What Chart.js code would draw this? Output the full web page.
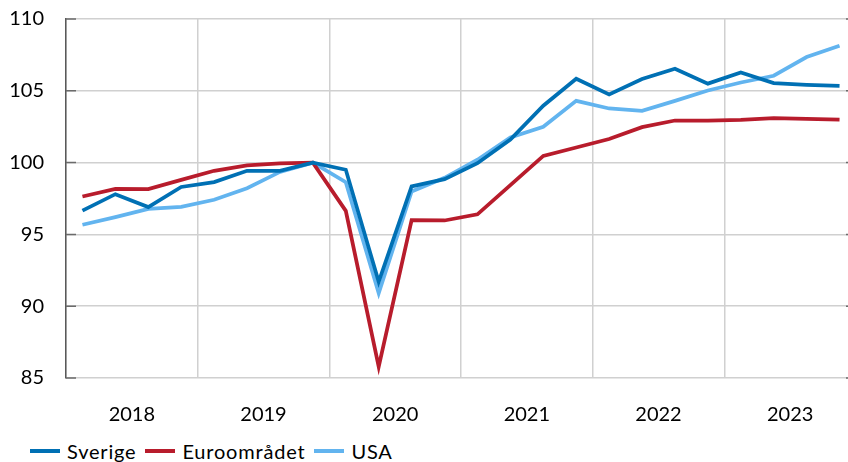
<!DOCTYPE html>
<html lang="sv">
<head>
<meta charset="utf-8">
<title>BNP Sverige, euroområdet och USA</title>
<script src="https://cdn.jsdelivr.net/npm/chart.js@4/dist/chart.umd.min.js"></script>
<style>
  html, body { margin: 0; padding: 0; background: #fff; overflow: hidden; }
  #wrap { position: relative; width: 848px; height: 462px; overflow: hidden; }
  #chart { position: absolute; left: 0; top: 0; }
  .legend { position: absolute; left: 30px; top: 439px; display: flex; align-items: center;
            font: 20px Lato, sans-serif; line-height: 24px; color: #000; white-space: nowrap;
            letter-spacing: 0.8px; }
  .legend .item { display: flex; align-items: center; margin-right: 9px; }
  .legend .swatch { width: 30px; height: 4px; margin-right: 7px; }
</style>
</head>
<body>
<div id="wrap">
  <canvas id="chart" width="860" height="427"></canvas>
  <div class="legend" id="legend"></div>
</div>
<script>
// quarterly data, 2018 K1 - 2023 K4, index 2019 K4 = 100
const years = ['2018', '2019', '2020', '2021', '2022', '2023'];
const quarters = years.flatMap(y => ['K1', 'K2', 'K3', 'K4'].map(q => y + ' ' + q));

const sverige = [96.66, 97.8, 96.9, 98.3, 98.64, 99.43, 99.43, 100.0,
                 99.5, 91.7, 98.35, 98.85, 99.96, 101.6, 103.96, 105.84,
                 104.75, 105.82, 106.54, 105.5, 106.28, 105.54, 105.42, 105.35];
const euro = [97.64, 98.17, 98.15, 98.8, 99.43, 99.8, 99.94, 100.0,
              96.64, 85.79, 96.0, 95.97, 96.4, 98.43, 100.47, 101.05,
              101.64, 102.47, 102.93, 102.93, 102.98, 103.1, 103.05, 103.0];
const usa = [95.67, 96.2, 96.78, 96.92, 97.41, 98.22, 99.35, 100.0,
             98.64, 90.9, 97.99, 98.94, 100.2, 101.75, 102.5, 104.3,
             103.77, 103.6, 104.3, 105.02, 105.58, 106.05, 107.35, 108.14];

const series = [
    { label: 'Sverige', values: sverige, color: '#0070b4' },
    { label: 'Euroområdet', values: euro, color: '#b81c2c' },
    { label: 'USA', values: usa, color: '#62b4ef' }
];

// points sit in the middle of each quarter
const toPoints = vals => vals.map((v, i) => ({ x: i + 0.5, y: v }));

// small inward ticks on the value axis (left and right edge)
const innerTicks = {
    id: 'innerTicks',
    beforeDatasetsDraw(chart) {
        const { ctx, chartArea, scales } = chart;
        ctx.save();
        ctx.strokeStyle = '#6b6b6b';
        ctx.lineWidth = 1.5;
        scales.y.ticks.forEach(t => {
            const y = scales.y.getPixelForValue(t.value);
            ctx.beginPath();
            ctx.moveTo(chartArea.left, y);
            ctx.lineTo(chartArea.left + 10, y);
            ctx.moveTo(chartArea.right - 10, y);
            ctx.lineTo(chartArea.right, y);
            ctx.stroke();
        });
        ctx.restore();
    }
};

new Chart(document.getElementById('chart'), {
    type: 'line',
    data: {
        datasets: series.map(s => ({
            label: s.label,
            data: toPoints(s.values),
            borderColor: s.color,
            backgroundColor: s.color,
            borderWidth: 3.75,
            pointRadius: 0,
            tension: 0,
            fill: false
        }))
    },
    options: {
        responsive: false,
        animation: false,
        layout: { padding: { top: 19, right: 4, left: 0, bottom: 0 } },
        plugins: { legend: { display: false }, tooltip: { enabled: false } },
        scales: {
            x: {
                type: 'linear',
                min: 0,
                max: quarters.length,
                afterBuildTicks: scale => {
                    scale.ticks = [];
                    for (let v = 0; v <= quarters.length; v += 2) scale.ticks.push({ value: v });
                },
                afterFit: scale => {
                    scale.height = 49;
                    scale.paddingLeft = 0;
                    scale.paddingRight = 0;
                },
                ticks: {
                    autoSkip: false,
                    maxRotation: 0,
                    padding: 25,
                    color: '#000',
                    font: { family: 'Lato', size: 20 },
                    callback: v => (v % 4 === 2 ? years[(v - 2) / 4] : '')
                },
                grid: {
                    drawTicks: false,
                    lineWidth: 1.5,
                    color: ctx => (ctx.tick && ctx.tick.value % 4 === 0 ? '#d0d0d0' : 'rgba(0,0,0,0)')
                },
                border: { display: false }
            },
            y: {
                min: 85,
                max: 110,
                afterFit: scale => {
                    scale.width = 66;
                    scale.paddingTop = 0;
                    scale.paddingBottom = 0;
                },
                ticks: {
                    stepSize: 5,
                    padding: 22,
                    color: '#000',
                    font: { family: 'Lato', size: 20 }
                },
                grid: { drawTicks: false, color: '#d0d0d0', lineWidth: 1.5 },
                border: { display: true, color: '#595959', width: 1.5 }
            }
        }
    },
    plugins: [innerTicks]
});

// legend below the chart
document.getElementById('legend').innerHTML = series.map(s => `
    <div class="item"><span class="swatch" style="background:${s.color}"></span><span>${s.label}</span></div>
`).join('');
</script>
</body>
</html>
